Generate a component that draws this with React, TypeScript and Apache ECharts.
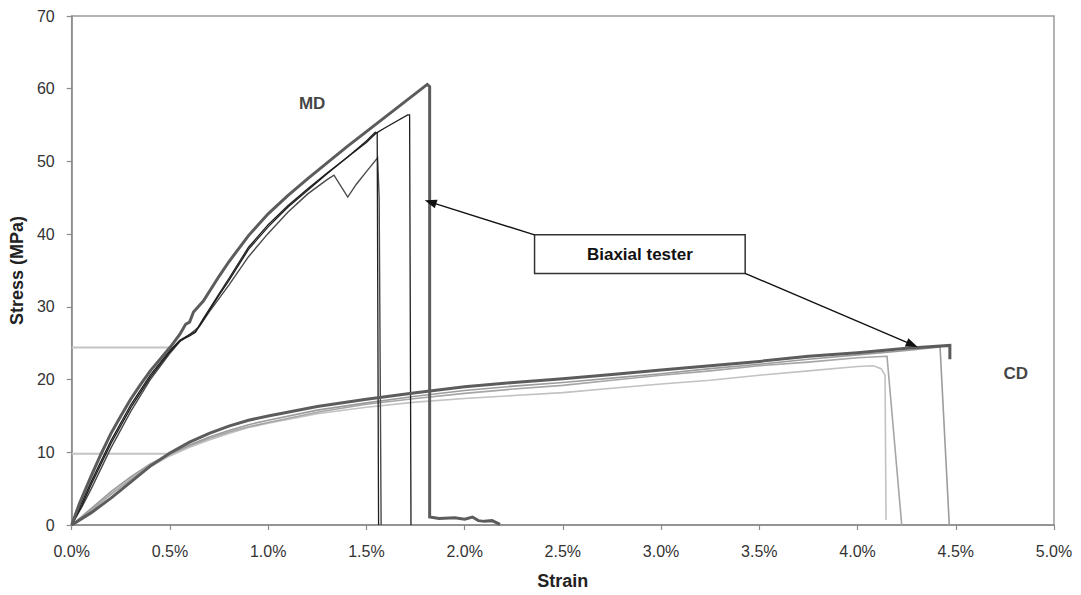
import React, { useEffect, useRef } from "react";
import * as echarts from "echarts";

// ---- Data (strain in %, stress in MPa) ----
const mdBiaxial: number[][] = [
  [0, 0], [0.04, 3.0], [0.1, 6.8], [0.15, 9.8], [0.2, 12.6], [0.25, 15.0], [0.3, 17.3],
  [0.35, 19.3], [0.4, 21.2], [0.45, 22.8], [0.5, 24.4], [0.55, 26.2], [0.58, 27.6],
  [0.6, 27.9], [0.62, 29.3], [0.67, 30.8], [0.75, 34.2], [0.8, 36.2], [0.9, 39.8],
  [1.0, 42.8], [1.1, 45.3], [1.2, 47.6], [1.3, 49.8], [1.4, 52.0], [1.5, 54.1],
  [1.6, 56.2], [1.7, 58.3], [1.81, 60.6], [1.822, 60.3], [1.822, 1.1], [1.87, 0.9],
  [1.95, 1.0], [2.0, 0.8], [2.04, 1.1], [2.07, 0.6], [2.1, 0.5], [2.14, 0.6], [2.18, 0.1],
];
const mdSample2: number[][] = [
  [0, 0], [0.05, 3.0], [0.1, 6.0], [0.2, 11.6], [0.3, 16.5], [0.4, 20.6], [0.5, 24.0],
  [0.55, 25.4], [0.6, 26.2], [0.63, 26.6], [0.67, 28.4], [0.75, 31.8], [0.8, 33.9],
  [0.9, 38.2], [1.0, 41.3], [1.1, 43.9], [1.2, 46.2], [1.3, 48.4], [1.4, 50.5],
  [1.5, 52.6], [1.55, 53.9], [1.6, 54.7], [1.71, 56.4], [1.72, 56.4], [1.727, 0],
];
const mdSample3: number[][] = [
  [0, 0], [0.05, 2.6], [0.1, 5.6], [0.2, 11.2], [0.3, 16.1], [0.4, 20.3], [0.5, 23.8],
  [0.55, 25.3], [0.6, 26.0], [0.63, 26.5], [0.67, 28.2], [0.75, 31.6], [0.8, 33.6],
  [0.9, 37.9], [1.0, 41.0], [1.1, 43.7], [1.2, 46.0], [1.3, 48.3], [1.4, 50.5],
  [1.5, 52.8], [1.545, 54.0], [1.555, 53.9], [1.562, 0],
];
const mdSample4: number[][] = [
  [0, 0], [0.05, 2.4], [0.1, 5.0], [0.2, 10.6], [0.3, 15.6], [0.4, 20.0], [0.5, 23.6],
  [0.55, 25.2], [0.6, 26.2], [0.65, 27.3], [0.7, 29.3], [0.8, 33.0], [0.9, 36.9],
  [1.0, 40.1], [1.1, 43.0], [1.2, 45.5], [1.3, 47.5], [1.335, 48.1], [1.405, 45.1],
  [1.45, 46.9], [1.5, 48.6], [1.557, 50.5], [1.565, 45.0], [1.575, 0],
];
const cdBiaxial: number[][] = [
  [0, 0], [0.1, 1.7], [0.2, 3.7], [0.3, 5.9], [0.35, 7.0], [0.4, 8.1], [0.5, 9.9],
  [0.6, 11.4], [0.7, 12.6], [0.8, 13.6], [0.9, 14.4], [1.0, 15.0], [1.25, 16.3],
  [1.5, 17.3], [1.75, 18.2], [2.0, 19.0], [2.25, 19.6], [2.5, 20.1], [2.75, 20.7],
  [3.0, 21.3], [3.25, 21.9], [3.5, 22.5], [3.75, 23.2], [4.0, 23.7], [4.25, 24.3],
  [4.47, 24.7], [4.47, 22.8],
];
const cdSampleA: number[][] = [
  [0, 0], [0.1, 2.3], [0.2, 4.6], [0.3, 6.6], [0.4, 8.4], [0.5, 9.8], [0.6, 11.0],
  [0.7, 12.1], [0.8, 13.0], [0.9, 13.8], [1.0, 14.4], [1.25, 15.8], [1.5, 16.8],
  [1.75, 17.7], [2.0, 18.5], [2.25, 19.1], [2.5, 19.6], [2.75, 20.2], [3.0, 20.8],
  [3.25, 21.5], [3.5, 22.1], [3.75, 22.8], [4.0, 23.4], [4.25, 24.0], [4.42, 24.5],
  [4.467, 0],
];
const cdSampleB: number[][] = [
  [0, 0], [0.1, 2.0], [0.2, 4.2], [0.3, 6.3], [0.4, 8.2], [0.5, 9.7], [0.6, 10.9],
  [0.7, 11.9], [0.8, 12.8], [0.9, 13.5], [1.0, 14.1], [1.25, 15.5], [1.5, 16.6],
  [1.75, 17.4], [2.0, 18.1], [2.25, 18.7], [2.5, 19.2], [2.75, 19.9], [3.0, 20.6],
  [3.25, 21.2], [3.5, 21.9], [3.75, 22.4], [4.0, 23.0], [4.15, 23.2], [4.225, 0],
];
const cdSampleC: number[][] = [
  [0, 0], [0.1, 2.1], [0.2, 4.3], [0.3, 6.2], [0.4, 8.0], [0.5, 9.5], [0.6, 10.7],
  [0.7, 11.7], [0.8, 12.6], [0.9, 13.4], [1.0, 14.0], [1.25, 15.3], [1.5, 16.2],
  [1.75, 16.9], [2.0, 17.4], [2.25, 17.8], [2.5, 18.2], [2.75, 18.8], [3.0, 19.4],
  [3.25, 19.9], [3.5, 20.6], [3.75, 21.2], [4.0, 21.8], [4.08, 21.9], [4.12, 21.5],
  [4.14, 20.6], [4.145, 0.7],
];
const refLineMD: number[][] = [[0, 24.4], [0.52, 24.4]];
const refLineCD: number[][] = [[0, 9.8], [0.5, 9.8]];

const labelPoints = [
  { name: "MD", value: [1.224, 58.0] },
  { name: "CD", value: [4.805, 20.8] },
];
const boxCorners = [[2.356, 39.9], [3.428, 34.6]];
const arrowMD = [[2.356, 39.9], [1.826, 44.4]];
const arrowCD = [[3.428, 34.6], [4.278, 24.8]];
const boxText = "Biaxial tester";

const FONT = "'Liberation Sans', Arial, sans-serif";

function lineSeries(name: string, data: number[][], color: string, width: number, z: number) {
  return {
    name,
    type: "line",
    data,
    showSymbol: false,
    symbol: "none",
    z,
    lineStyle: { color, width, cap: "butt", join: "miter" },
    emphasis: { disabled: true },
  };
}

export default function App() {
  const ref = useRef<HTMLDivElement>(null);
  useEffect(() => {
    document.body.style.margin = "0";
    const chart = echarts.init(ref.current!, null, { renderer: "svg" });
    const option: any = {
      animation: false,
      backgroundColor: "#ffffff",
      textStyle: { fontFamily: FONT },
      grid: {
        left: 71,
        right: 27,
        top: 16,
        bottom: 70,
        show: true,
        borderColor: "#9a9a9a",
        borderWidth: 1.5,
        backgroundColor: "transparent",
      },
      xAxis: {
        type: "value",
        min: 0,
        max: 5,
        interval: 0.5,
        name: "Strain",
        nameLocation: "middle",
        nameGap: 47,
        nameTextStyle: { fontFamily: FONT, fontWeight: "bold", fontSize: 18, color: "#222" },
        axisLine: { show: true, lineStyle: { color: "#8a8a8a", width: 1.5 } },
        axisTick: { show: true, length: 5, lineStyle: { color: "#8a8a8a", width: 1.2 } },
        axisLabel: {
          margin: 18,
          fontSize: 16,
          color: "#333",
          fontFamily: FONT,
          formatter: (v: number) => v.toFixed(1) + "%",
        },
        splitLine: { show: false },
      },
      yAxis: {
        type: "value",
        min: 0,
        max: 70,
        interval: 10,
        name: "Stress (MPa)",
        nameLocation: "middle",
        nameGap: 42,
        nameTextStyle: { fontFamily: FONT, fontWeight: "bold", fontSize: 18, color: "#222" },
        axisLine: { show: true, lineStyle: { color: "#8a8a8a", width: 1.5 } },
        axisTick: { show: true, length: 5, lineStyle: { color: "#8a8a8a", width: 1.2 } },
        axisLabel: { margin: 17, fontSize: 16, color: "#333", fontFamily: FONT },
        splitLine: { show: false },
      },
      series: [
        lineSeries("refMD", refLineMD, "#c4c4c4", 2, 1),
        lineSeries("refCD", refLineCD, "#c4c4c4", 2, 1),
        lineSeries("cdC", cdSampleC, "#c2c2c2", 1.6, 2),
        lineSeries("cdB", cdSampleB, "#a6a6a6", 1.6, 2),
        lineSeries("cdA", cdSampleA, "#9c9c9c", 1.6, 2),
        lineSeries("md4", mdSample4, "#4a4a4a", 1.4, 3),
        lineSeries("md3", mdSample3, "#1e1e1e", 1.3, 3),
        lineSeries("md2", mdSample2, "#1e1e1e", 1.3, 3),
        lineSeries("cdBiaxial", cdBiaxial, "#5c5c5c", 3, 4),
        {
          ...lineSeries("mdBiaxial", mdBiaxial, "#5c5c5c", 3, 4),
          markLine: {
            silent: true,
            symbol: ["none", "triangle"],
            symbolSize: [9, 12],
            label: { show: false },
            lineStyle: { color: "#111", width: 1.4, type: "solid" },
            emphasis: { disabled: true },
            data: [
              [{ coord: arrowMD[0] }, { coord: arrowMD[1] }],
              [{ coord: arrowCD[0] }, { coord: arrowCD[1] }],
            ],
          },
          markArea: {
            silent: true,
            itemStyle: { color: "#ffffff", borderColor: "#333", borderWidth: 1.5 },
            label: {
              show: true,
              position: "inside",
              formatter: boxText,
              fontFamily: FONT,
              fontWeight: "bold",
              fontSize: 17,
              color: "#111",
            },
            emphasis: { disabled: true },
            data: [[{ coord: boxCorners[0] }, { coord: boxCorners[1] }]],
          },
        },
        {
          name: "labels",
          type: "scatter",
          data: labelPoints,
          symbolSize: 1,
          z: 5,
          itemStyle: { color: "rgba(0,0,0,0)" },
          label: {
            show: true,
            position: "inside",
            formatter: (p: any) => p.name,
            fontFamily: FONT,
            fontWeight: "bold",
            fontSize: 17,
            color: "#111",
          },
          emphasis: { disabled: true },
        },
      ],
    };
    chart.setOption(option);
    return () => chart.dispose();
  }, []);
  return (
    <div
      ref={ref}
      style={{ position: "absolute", left: 0, top: 0, width: 1081, height: 595 }}
    />
  );
}
